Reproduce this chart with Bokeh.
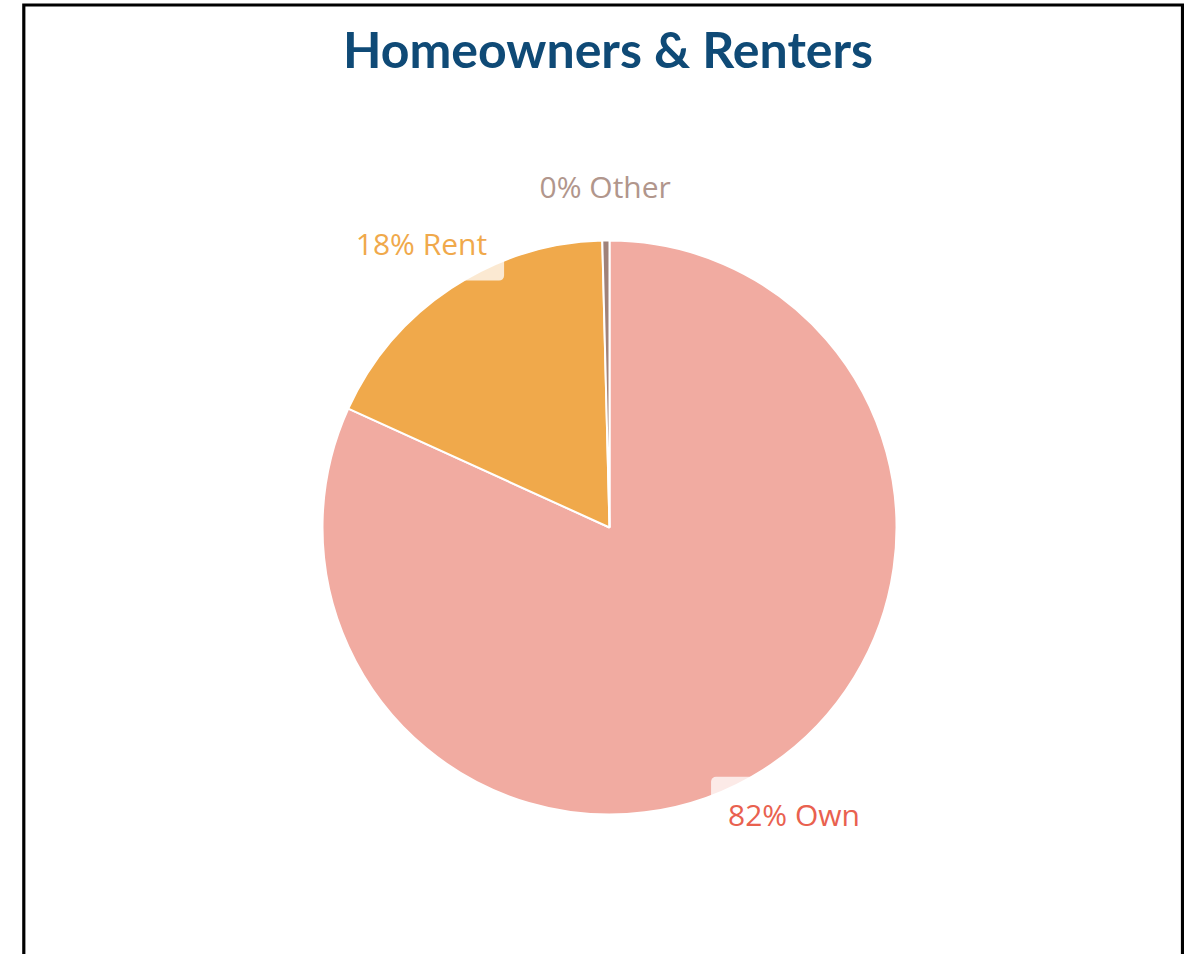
import numpy as np
from bokeh.plotting import figure
from bokeh.models import Range1d, ColumnDataSource
from bokeh.core.properties import value
from bokeh.embed import file_html
from bokeh.resources import INLINE

# ---- data ----
categories = ["Own", "Rent", "Other"]
shares = [81.8, 17.8, 0.4]
slice_colors = ["#f1aba1", "#f0a94b", "#a08279"]
label_colors = ["#e9614f", "#f0a94b", "#b1968c"]
title_text = "Homeowners & Renters"

# ---- layout (pixels) ----
W, H = 1184, 954
LEFT, TOP = 0, 0
CX, CY = 609.0, 527.0
R = 287.0


def px2x(px):
    return (px - CX) / R


def py2y(py):
    return (CY - py) / R


fr = np.array(shares) / sum(shares)
cum = np.concatenate([[0.0], np.cumsum(fr)])
start = np.pi / 2 - 2 * np.pi * cum[1:]
end = np.pi / 2 - 2 * np.pi * cum[:-1]
mid = (start + end) / 2
label_r = 1.188
labels = [f"{round(s)}% {c}" for s, c in zip(shares, categories)]

src = ColumnDataSource(dict(
    cat=categories, start=start, end=end, color=slice_colors,
    lx=label_r * np.cos(mid), ly=label_r * np.sin(mid),
    label=labels, lcolor=label_colors,
))

p = figure(width=W, height=H, output_backend="svg", toolbar_location=None,
           x_range=Range1d(px2x(LEFT), px2x(LEFT + W)),
           y_range=Range1d(py2y(TOP + H), py2y(TOP)),
           x_axis_location=None, y_axis_location=None,
           min_border=0, outline_line_color=None)
p.grid.visible = False
p.background_fill_color = "white"
p.border_fill_color = "white"

p.wedge(x=0, y=0, radius=1.0, start_angle="start", end_angle="end",
        direction="anticlock", fill_color="color", line_color="white",
        line_width=2, source=src)

p.text(x="lx", y="ly", text="label", text_color="lcolor",
       text_font=value("Open Sans"), text_font_size="30px",
       text_align="center", text_baseline="middle",
       background_fill_color="white", background_fill_alpha=0.75,
       border_radius=5, padding=17, source=src)

# title
p.text(x=[px2x(607.5)], y=[py2y(48.0)], text=[title_text],
       text_color="#0f4a76", text_font=value("Lato"),
       text_font_style="bold", text_font_size="50px",
       text_align="center", text_baseline="middle")

# frame border (left, top, right)
bx = [px2x(23.3), px2x(23.3), px2x(1182.0), px2x(1182.0)]
by = [py2y(TOP + H + 10), py2y(4.5), py2y(4.5), py2y(TOP + H + 10)]
p.line(bx, by, line_color="black", line_width=3.2, line_join="miter")

open("out.html", "w").write(file_html(p, INLINE))
